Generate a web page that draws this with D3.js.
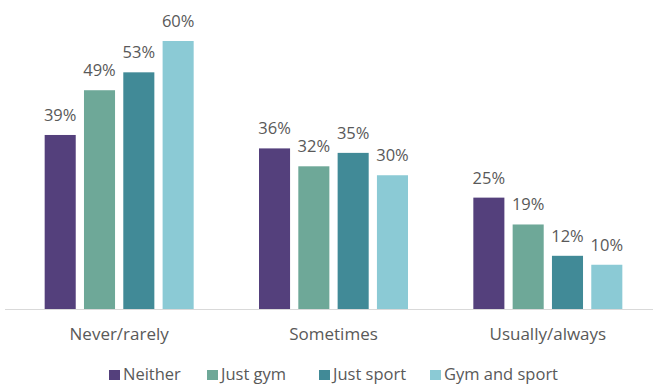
<!DOCTYPE html>
<html>
<head>
<meta charset="utf-8">
<script src="https://cdn.jsdelivr.net/npm/d3@7"></script>
<style>
  html, body { margin: 0; padding: 0; background: #ffffff; }
  svg { display: block; font-family: "Open Sans", "Noto Sans", sans-serif; }
</style>
</head>
<body>
<svg id="chart" width="653" height="385"></svg>
<script>
// Frequency categories and the share of each group (percent)
const categories = ["Never/rarely", "Sometimes", "Usually/always"];
const seriesNames = ["Neither", "Just gym", "Just sport", "Gym and sport"];
const neither = [39, 36, 25];
const justGym = [49, 32, 19];
const justSport = [53, 35, 12];
const gymAndSport = [60, 30, 10];
const seriesColors = ["#54407c", "#6ea898", "#418a97", "#8bcad5"];

const seriesValues = [neither, justGym, justSport, gymAndSport];

const svg = d3.select("#chart");
const baseline = 309.5;

const x0 = d3.scaleBand().domain(categories).range([12, 655]).paddingInner(0).paddingOuter(0);
const half = x0.bandwidth() / 2;
const x1 = d3.scaleBand().domain(seriesNames).range([half - 74.5, half + 74.5]).paddingInner(0.21).paddingOuter(0);
const y = d3.scaleLinear().domain([0, 60]).range([baseline, 41]);

const textColor = "#595959";

// Bars with value labels
categories.forEach((cat, ci) => {
  const g = svg.append("g").attr("transform", `translate(${x0(cat)},0)`);
  seriesNames.forEach((s, si) => {
    const v = seriesValues[si][ci];
    g.append("rect")
      .attr("x", x1(s))
      .attr("y", y(v))
      .attr("width", x1.bandwidth())
      .attr("height", baseline - y(v))
      .attr("fill", seriesColors[si]);
    g.append("text")
      .attr("x", x1(s) + x1.bandwidth() / 2)
      .attr("y", y(v) - 14)
      .attr("text-anchor", "middle")
      .attr("font-size", 16.5)
      .attr("fill", textColor)
      .text(v + "%");
  });
});

// Category axis
const axis = svg.append("g")
  .attr("transform", `translate(0,${baseline})`)
  .call(d3.axisBottom(x0).tickSize(0).tickPadding(18));
axis.select(".domain").attr("d", "M5,0H653").attr("stroke", "#d9d9d9").attr("stroke-width", 1);
axis.selectAll("text")
  .attr("font-size", 17)
  .attr("font-family", "Open Sans, sans-serif")
  .attr("fill", textColor);

// Legend
const legendX = [109, 207, 319, 430];
const legend = svg.append("g");
seriesNames.forEach((s, i) => {
  legend.append("rect")
    .attr("x", legendX[i]).attr("y", 370)
    .attr("width", 11).attr("height", 10)
    .attr("fill", seriesColors[i]);
  legend.append("text")
    .attr("x", legendX[i] + 14).attr("y", 380)
    .attr("font-size", 16.5)
    .attr("fill", textColor)
    .text(s);
});
</script>
</body>
</html>
